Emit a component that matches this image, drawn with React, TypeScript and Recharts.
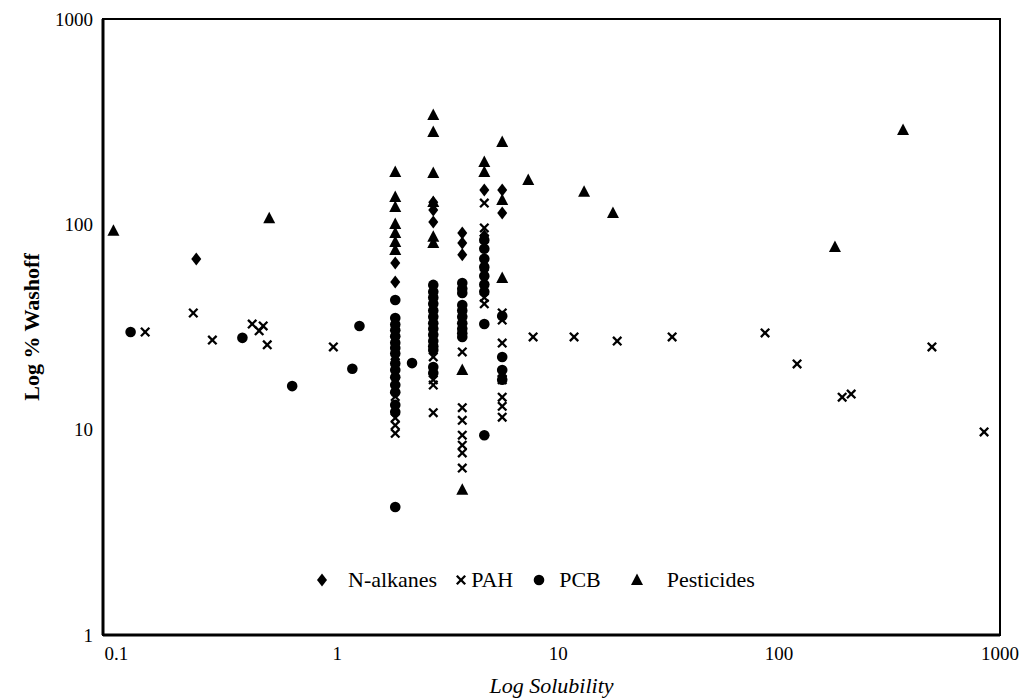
import React from 'react';
import { ScatterChart, Scatter, XAxis, YAxis, ReferenceArea, Legend } from 'recharts';

const xTicks = [0.1, 1, 10, 100, 1000];
const yTicks = [1, 10, 100, 1000];
const xDomain: [number, number] = [0.087, 1000];
const yDomain: [number, number] = [1, 1000];

const seriesNames = ['N-alkanes', 'PAH', 'PCB', 'Pesticides'];

const nAlkanes: [number, number][] = [
  [0.23, 67.8],
  [1.83, 64.9], [1.83, 52.4], [1.83, 28], [1.83, 22],
  [2.72, 128], [2.72, 117.5], [2.72, 102.7],
  [3.68, 90.8], [3.68, 81.2], [3.68, 71],
  [4.63, 147], [4.63, 88], [4.63, 60],
  [5.58, 147], [5.58, 113.6],
];

const pah: [number, number][] = [
  [0.135, 29.9], [0.223, 37], [0.272, 27.3], [0.412, 32.7], [0.443, 30.3], [0.462, 32], [0.482, 25.9],
  [0.96, 25.3], [7.7, 28.3], [11.8, 28.3], [18.5, 27], [32.8, 28.3], [86.4, 29.6], [120.6, 20.9],
  [193, 14.4], [212, 14.9], [492, 25.3], [847, 9.75],
  [1.83, 16], [1.83, 14.5], [1.83, 11.4], [1.83, 10.5], [1.83, 9.6],
  [2.72, 22.6], [2.72, 17.5], [2.72, 16.5], [2.72, 12.1],
  [3.68, 23.9], [3.68, 12.8], [3.68, 11.1], [3.68, 9.4], [3.68, 8.4], [3.68, 7.7], [3.68, 6.5],
  [4.63, 127], [4.63, 96], [4.63, 85], [4.63, 44], [4.63, 41],
  [5.58, 37], [5.58, 34.2], [5.58, 26.4], [5.58, 19], [5.58, 17.5], [5.58, 14.4], [5.58, 13], [5.58, 11.5],
];

const pcb: [number, number][] = [
  [0.116, 29.9], [0.372, 28], [0.625, 16.3], [1.17, 19.8], [1.26, 32], [2.18, 21.1],
  [1.83, 42.8], [1.83, 35], [1.83, 32.5], [1.83, 30.5], [1.83, 28.5], [1.83, 26.5], [1.83, 25],
  [1.83, 23.5], [1.83, 21], [1.83, 19.5], [1.83, 18], [1.83, 16.5], [1.83, 15.2], [1.83, 13.2],
  [1.83, 12.2], [1.83, 4.2],
  [2.72, 50.7], [2.72, 47], [2.72, 44], [2.72, 41], [2.72, 38], [2.72, 35.5], [2.72, 33],
  [2.72, 31], [2.72, 29], [2.72, 27], [2.72, 25.5], [2.72, 24.4], [2.72, 20.2], [2.72, 18.9],
  [3.68, 51.8], [3.68, 48.5], [3.68, 46.3], [3.68, 40.5], [3.68, 38], [3.68, 35.5], [3.68, 33],
  [3.68, 31], [3.68, 29.5], [3.68, 28.3],
  [4.63, 84], [4.63, 76], [4.63, 68], [4.63, 62], [4.63, 56], [4.63, 51], [4.63, 47], [4.63, 32.7], [4.63, 9.4],
  [5.58, 35.8], [5.58, 22.6], [5.58, 19.5], [5.58, 17.5],
];

const pesticides: [number, number][] = [
  [0.097, 93], [0.492, 107], [7.32, 164.5], [13.1, 144], [17.7, 113.7], [179, 77.6], [364, 288],
  [1.83, 180], [1.83, 136], [1.83, 121.6], [1.83, 100.5], [1.83, 90.8], [1.83, 82], [1.83, 75],
  [2.72, 341], [2.72, 282], [2.72, 178], [2.72, 128.5], [2.72, 87], [2.72, 81],
  [3.68, 19.5], [3.68, 5.1],
  [4.63, 201], [4.63, 180],
  [5.58, 252], [5.58, 131.5], [5.58, 54.8],
];

const toPts = (arr: [number, number][]) => arr.map(([x, y]) => ({ x, y }));

const FONT = '"Liberation Serif", "Times New Roman", serif';

const Diamond = (p: any) => {
  const { cx, cy } = p;
  if (cx == null || cy == null) return null;
  return <polygon points={`${cx},${cy - 6.5} ${cx + 5},${cy} ${cx},${cy + 6.5} ${cx - 5},${cy}`} fill="#000" />;
};
const Cross = (p: any) => {
  const { cx, cy } = p;
  if (cx == null || cy == null) return null;
  const s = 4.2;
  return (
    <g stroke="#000" strokeWidth={2.3}>
      <line x1={cx - s} y1={cy - s} x2={cx + s} y2={cy + s} />
      <line x1={cx - s} y1={cy + s} x2={cx + s} y2={cy - s} />
    </g>
  );
};
const Dot = (p: any) => {
  const { cx, cy } = p;
  if (cx == null || cy == null) return null;
  return <circle cx={cx} cy={cy} r={5.3} fill="#000" />;
};
const Tri = (p: any) => {
  const { cx, cy } = p;
  if (cx == null || cy == null) return null;
  return <polygon points={`${cx},${cy - 6.5} ${cx + 6},${cy + 5} ${cx - 6},${cy + 5}`} fill="#000" />;
};

const LegendIcon = ({ kind }: { kind: number }) => (
  <svg width={12} height={14} style={{ display: 'block' }}>
    {kind === 0 && <Diamond cx={6} cy={7} />}
    {kind === 1 && <Cross cx={6} cy={7} />}
    {kind === 2 && <Dot cx={6} cy={7} />}
    {kind === 3 && <Tri cx={6} cy={7} />}
  </svg>
);

const gapsAfterIcon = [20, 4, 14, 24];
const gapsBefore = [0, 18, 20, 30];

const LegendContent = () => (
  <div style={{ display: 'flex', alignItems: 'center', fontFamily: FONT, fontSize: 22, color: '#000', whiteSpace: 'nowrap' }}>
    {seriesNames.map((n, i) => (
      <div key={n} style={{ display: 'flex', alignItems: 'center', marginLeft: gapsBefore[i] }}>
        <LegendIcon kind={i} />
        <span style={{ marginLeft: gapsAfterIcon[i] }}>{n}</span>
      </div>
    ))}
  </div>
);

const tickStyle = { fill: '#000', fontSize: 19, fontFamily: FONT };

export default function App() {
  return (
    <ScatterChart width={1014} height={691} margin={{ top: 11, right: 22, bottom: 0, left: 0 }} style={{ fontFamily: FONT }}>
      <ReferenceArea x1={xDomain[0]} x2={xDomain[1]} y1={yDomain[0]} y2={yDomain[1]} fill="none" stroke="#000" strokeWidth={2} ifOverflow="visible" />
      <XAxis
        dataKey="x"
        type="number"
        scale="log"
        domain={xDomain}
        ticks={xTicks}
        allowDataOverflow
        tickLine={false}
        tickSize={0}
        tickMargin={12}
        axisLine={{ stroke: '#000', strokeWidth: 3 }}
        tick={tickStyle}
        tickFormatter={(v: number) => String(v)}
        height={64}
        label={{ value: 'Log Solubility', position: 'insideBottom', offset: 6, style: { fill: '#000', fontSize: 22, fontStyle: 'italic', fontFamily: FONT } }}
      />
      <YAxis
        dataKey="y"
        type="number"
        scale="log"
        domain={yDomain}
        ticks={yTicks}
        allowDataOverflow
        tickLine={false}
        tickSize={0}
        tickMargin={10}
        axisLine={{ stroke: '#000', strokeWidth: 3 }}
        tick={tickStyle}
        tickFormatter={(v: number) => String(v)}
        width={95}
        label={{ value: 'Log % Washoff', angle: -90, position: 'insideLeft', offset: 23, style: { textAnchor: 'middle', fill: '#000', fontSize: 22, fontWeight: 'bold', fontFamily: FONT } }}
      />
      <Legend
        layout="horizontal"
        verticalAlign="middle"
        align="center"
        content={<LegendContent />}
        wrapperStyle={{ position: 'absolute', left: 308, top: 559, width: 500 }}
      />
      <Scatter name="N-alkanes" data={toPts(nAlkanes)} shape={<Diamond />} isAnimationActive={false} />
      <Scatter name="PAH" data={toPts(pah)} shape={<Cross />} isAnimationActive={false} />
      <Scatter name="PCB" data={toPts(pcb)} shape={<Dot />} isAnimationActive={false} />
      <Scatter name="Pesticides" data={toPts(pesticides)} shape={<Tri />} isAnimationActive={false} />
    </ScatterChart>
  );
}
